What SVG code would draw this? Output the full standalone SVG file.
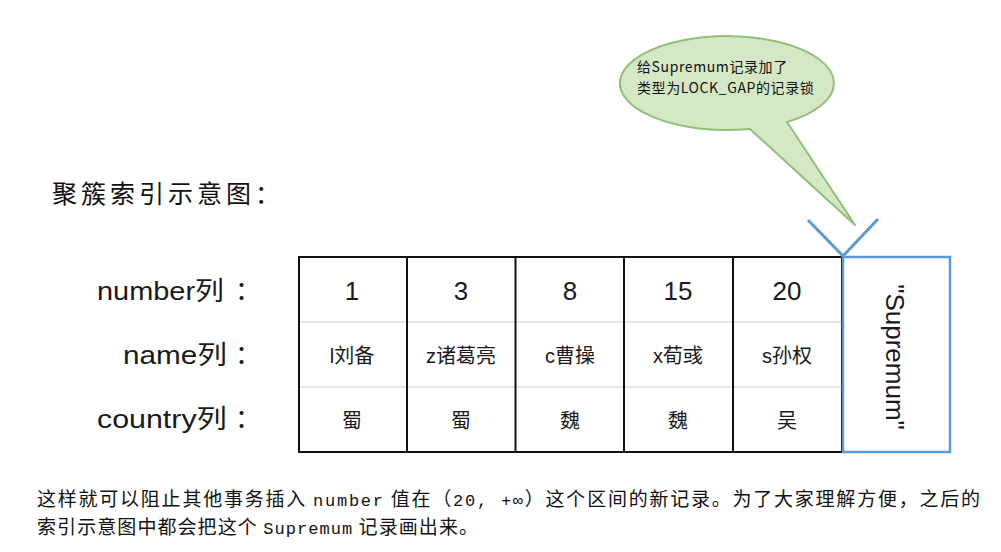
<svg xmlns="http://www.w3.org/2000/svg" width="1001" height="552" viewBox="0 0 1001 552">
<style>
.lbl{font-family:"Liberation Sans","Noto Sans CJK SC",sans-serif;font-size:26px;fill:#1a1a1a}
.num{font-family:"Liberation Sans","Noto Sans CJK SC",sans-serif;font-size:26px;fill:#1a1a1a;text-anchor:middle}
.cell{font-family:"Liberation Sans","Noto Sans CJK SC",sans-serif;font-size:20px;fill:#1a1a1a;text-anchor:middle}
.body{font-family:"Noto Sans CJK SC",sans-serif;font-size:19px;fill:#111}
.mono{font-family:"Liberation Mono","Noto Sans CJK SC",monospace;font-size:17px;fill:#111}
.note{font-family:"Noto Sans CJK SC",sans-serif;font-size:14px;fill:#111;letter-spacing:0.6px}
.grid{stroke:#111;stroke-width:2;fill:none}
.sep{stroke:#e6e6e6;stroke-width:2}
</style>
<rect width="1001" height="552" fill="#fff"/>
<g id="callout">
<path d="M750,129 A107,47 0 1 1 787,122 L855,225 Z" fill="#d5e8c6" stroke="#8fc07a" stroke-width="2" stroke-linejoin="round"/>
<text class="note" x="637" y="72">给Supremum记录加了</text>
<text class="note" x="637" y="93">类型为LOCK_GAP的记录锁</text>
</g>
<g id="title">
<text x="52" y="203" font-family="Noto Sans CJK SC,sans-serif" font-size="25" fill="#111" letter-spacing="4">聚簇索引示意图：</text>
</g>
<g id="labels">
<text class="lbl" x="97" y="300" textLength="127" lengthAdjust="spacingAndGlyphs">number列</text>
<text class="lbl" x="123" y="364" textLength="104" lengthAdjust="spacingAndGlyphs">name列</text>
<text class="lbl" x="97" y="428" textLength="130" lengthAdjust="spacingAndGlyphs">country列</text>
<text class="lbl" x="235" y="300">：</text>
<text class="lbl" x="235" y="364">：</text>
<text class="lbl" x="235" y="428">：</text>
</g>
<g id="table">
<line class="sep" x1="299" y1="322" x2="842" y2="322"/>
<line class="sep" x1="299" y1="387" x2="842" y2="387"/>
<rect class="grid" x="299" y="257" width="543" height="195"/>
<line class="grid" x1="407" y1="257" x2="407" y2="452"/>
<line class="grid" x1="515.5" y1="257" x2="515.5" y2="452"/>
<line class="grid" x1="624" y1="257" x2="624" y2="452"/>
<line class="grid" x1="733" y1="257" x2="733" y2="452"/>
<text class="num" x="352" y="300">1</text>
<text class="num" x="461" y="300">3</text>
<text class="num" x="570" y="300">8</text>
<text class="num" x="678" y="300">15</text>
<text class="num" x="787" y="300">20</text>
<text class="cell" x="352" y="363">l刘备</text>
<text class="cell" x="461" y="363">z诸葛亮</text>
<text class="cell" x="570" y="363">c曹操</text>
<text class="cell" x="678" y="363">x荀彧</text>
<text class="cell" x="787" y="363">s孙权</text>
<text class="cell" x="352" y="428">蜀</text>
<text class="cell" x="461" y="428">蜀</text>
<text class="cell" x="570" y="428">魏</text>
<text class="cell" x="678" y="428">魏</text>
<text class="cell" x="787" y="428">吴</text>
</g>
<g id="supremum">
<rect x="843" y="257" width="107" height="195" fill="none" stroke="#5b9bd5" stroke-width="2.5"/>
<text class="num" transform="translate(886,357) rotate(90)">"Supremum"</text>
</g>
<g id="connectors">
<path d="M808,220 L843,256 L878,219" fill="none" stroke="#5b9bd5" stroke-width="3"/>
</g>
<g id="caption">
<text class="body" x="37" y="506" textLength="943" lengthAdjust="spacing">这样就可以阻止其他事务插入 <tspan class="mono">number</tspan> 值在（<tspan class="mono">20, +∞</tspan>）这个区间的新记录。为了大家理解方便，之后的</text>
<text class="body" x="37" y="534" textLength="441" lengthAdjust="spacing">索引示意图中都会把这个 <tspan class="mono">Supremum</tspan> 记录画出来。</text>
</g>
</svg>
